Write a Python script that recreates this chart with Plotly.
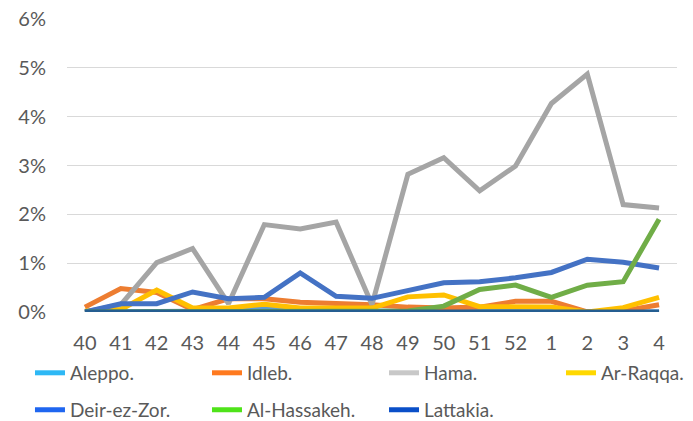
import plotly.graph_objects as go

weeks = ["40", "41", "42", "43", "44", "45", "46", "47", "48", "49", "50", "51", "52", "1", "2", "3", "4"]

aleppo      = [0.00, 0.00, 0.00, 0.00, 0.02, 0.08, 0.03, 0.02, 0.02, 0.02, 0.02, 0.02, 0.02, 0.02, 0.00, 0.00, 0.00]
idleb       = [0.10, 0.48, 0.40, 0.05, 0.27, 0.27, 0.20, 0.18, 0.15, 0.10, 0.08, 0.10, 0.22, 0.22, 0.00, 0.02, 0.15]
hama        = [0.00, 0.15, 1.01, 1.30, 0.17, 1.79, 1.70, 1.84, 0.15, 2.82, 3.16, 2.48, 2.99, 4.27, 4.87, 2.20, 2.13]
ar_raqqa    = [0.02, 0.05, 0.45, 0.08, 0.08, 0.16, 0.08, 0.08, 0.08, 0.31, 0.35, 0.11, 0.10, 0.10, 0.00, 0.09, 0.30]
deir_ez_zor = [0.00, 0.17, 0.17, 0.41, 0.27, 0.30, 0.80, 0.32, 0.28, 0.45, 0.60, 0.62, 0.70, 0.81, 1.08, 1.02, 0.90]
al_hassakeh = [0.00, 0.00, 0.00, 0.00, 0.00, 0.00, 0.00, 0.00, 0.00, 0.02, 0.12, 0.46, 0.55, 0.30, 0.55, 0.62, 1.90]
lattakia    = [0.00] * 17

names = ["Aleppo.", "Idleb.", "Hama.", "Ar-Raqqa.", "Deir-ez-Zor.", "Al-Hassakeh.", "Lattakia."]
series = [aleppo, idleb, hama, ar_raqqa, deir_ez_zor, al_hassakeh, lattakia]
line_colors = ["#5B9BD5", "#ED7D31", "#A5A5A5", "#FFC000", "#4472C4", "#70AD47", "#255E91"]
legend_colors = ["#2EB8F5", "#FF7A1F", "#C8C8C8", "#FFD800", "#1F66F0", "#4FE31A", "#0A4FC8"]

# legend placement: one legend box per entry (two rows of the reference layout)
legend_x = [-0.0607, 0.2295, 0.5197, 0.8098, -0.0607, 0.2295, 0.5197]
legend_y = [-0.208, -0.208, -0.208, -0.208, -0.334, -0.334, -0.334]

fig = go.Figure()
for name, ys, c in zip(names, series, line_colors):
    fig.add_trace(go.Scatter(x=weeks, y=ys, mode="lines", name=name, showlegend=False,
                             line=dict(color=c, width=5), hoverinfo="x+y+name"))
# legend entries (swatch colours differ from the drawn lines in the reference)
for i, (name, c) in enumerate(zip(names, legend_colors)):
    lg = "legend" if i == 0 else f"legend{i + 1}"
    fig.add_trace(go.Scatter(x=[None], y=[None], mode="lines", name=name, legend=lg,
                             line=dict(color=c, width=5)))

font_family = "Lato, Liberation Sans, Arial, sans-serif"
legend_common = dict(orientation="h", xanchor="left", yanchor="middle",
                     font=dict(family=font_family, size=19, color="#595959"),
                     bgcolor="rgba(0,0,0,0)", itemclick=False, itemdoubleclick=False)

legends = {}
for i in range(len(names)):
    key = "legend" if i == 0 else f"legend{i + 1}"
    legends[key] = dict(x=legend_x[i], y=legend_y[i], **legend_common)

fig.update_layout(
    width=693, height=421,
    margin=dict(l=67, r=16, t=19, b=109, autoexpand=False),
    paper_bgcolor="white", plot_bgcolor="white",
    font=dict(family=font_family, size=20, color="#595959"),
    xaxis=dict(type="category", range=[-0.5, 16.5], showgrid=False, zeroline=False,
               showline=False, ticks="", ticklabelstandoff=17,
               tickfont=dict(size=20, color="#595959")),
    yaxis=dict(range=[0, 6], dtick=1, ticksuffix="%", showgrid=True,
               gridcolor="#D9D9D9", gridwidth=1.3, zeroline=False, showline=False,
               ticks="", ticklabelstandoff=20, tickfont=dict(size=20, color="#595959")),
    showlegend=True,
    **legends,
)

fig.write_html("out.html", config={"displayModeBar": False},
               post_script="document.body.style.margin='0';")
